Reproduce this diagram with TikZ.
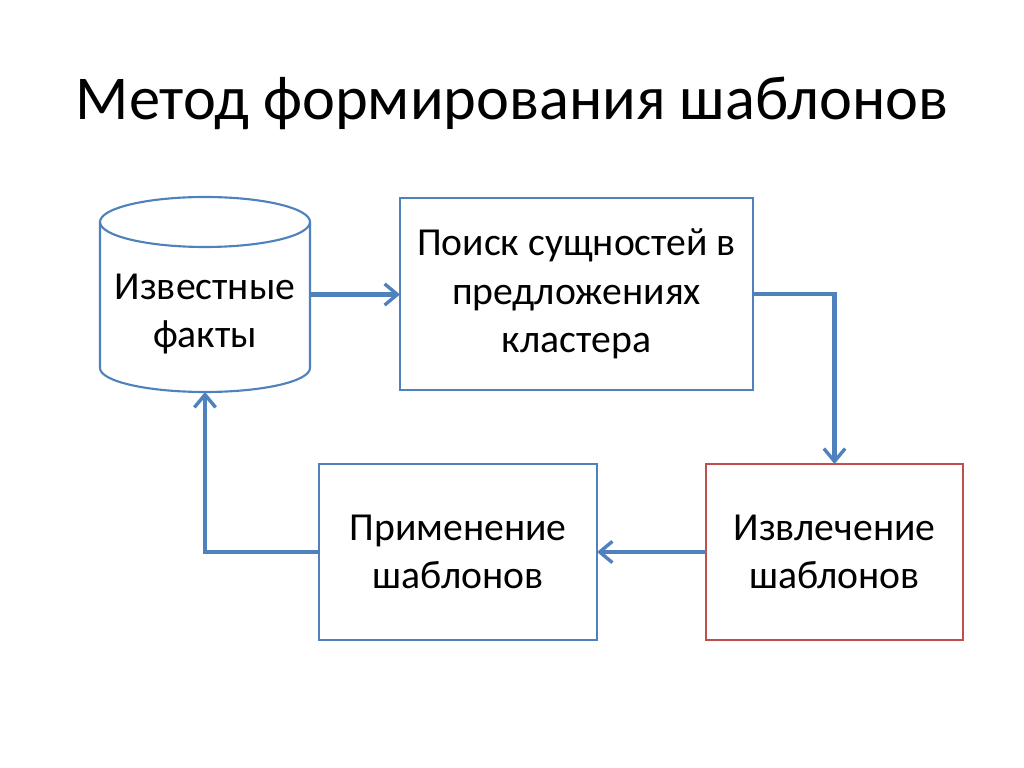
\documentclass[tikz,border=0pt]{standalone}
\usepackage{fontspec}
\setmainfont{Carlito}
\usetikzlibrary{arrows.meta}
\definecolor{blueline}{HTML}{4F81BD}
\definecolor{redline}{HTML}{C0504D}
\newcommand\pxunit{0.0248cm}
\tikzset{
  block/.style={draw=blueline, line width=1.5pt, fill=white, align=center,
    inner sep=0pt, outer sep=0pt, font=\fontsize{28}{34.4}\selectfont},
  redblock/.style={block, draw=redline},
  flow/.style={draw=blueline, line width=3.2pt, -{Straight Barb[length=9pt, width=15pt, line width=2.4pt]}},
}
\begin{document}
\begin{tikzpicture}[x=\pxunit, y=\pxunit]
\useasboundingbox (0,0) rectangle (1024,768);

%%%%%%%%%%%% Title
\node[anchor=base, font=\fontsize{44}{52.8}\selectfont] (title) at (512,648) {Метод формирования шаблонов};

%%%%%%%%%%%% Known facts (cylinder)
\node[inner sep=0pt, outer sep=0pt, minimum width=210*\pxunit, minimum height=195*\pxunit] (facts) at (205,473.5) {};
\draw[blueline, line width=1.5pt] (205,546) ellipse [x radius=105, y radius=25];
\draw[blueline, line width=1.5pt] (100,546) -- (100,400) arc [start angle=180, end angle=360, x radius=105, y radius=24] -- (310,546);
\node[align=center, font=\fontsize{28}{34.4}\selectfont] (factstext) at (205,454) {Известные\\факты};

%%%%%%%%%%%% Blocks
\node[block, minimum width=353*\pxunit, minimum height=192*\pxunit] (search) at (576.5,474) {Поиск сущностей в\\предложениях\\кластера};
\node[redblock, minimum width=257*\pxunit, minimum height=176*\pxunit] (extract) at (834.5,216) {Извлечение\\шаблонов};
\node[block, minimum width=278*\pxunit, minimum height=176*\pxunit] (apply) at (458,216) {Применение\\шаблонов};

%%%%%%%%%%%% Connectors
\draw[flow] (facts.east) -- (facts.east -| search.west);
\draw[flow] (search.east) -| (extract.north);
\draw[flow] (extract.west) -- (apply.east);
\draw[flow] (apply.west) -| (facts.south);
\end{tikzpicture}
\end{document}
